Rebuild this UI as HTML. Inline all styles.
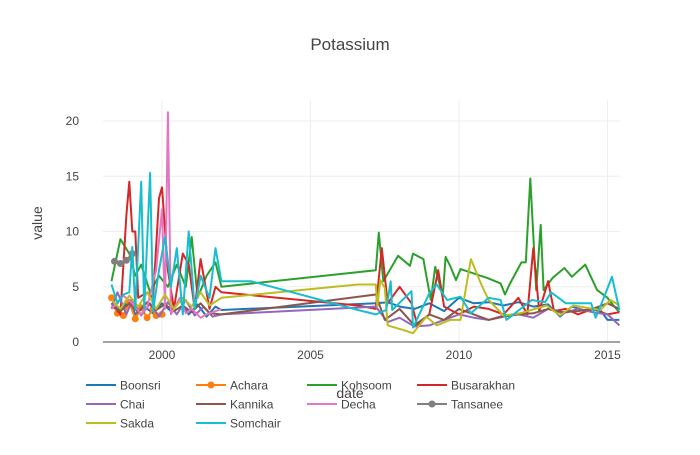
<!DOCTYPE html>
<html><head><meta charset="utf-8"><style>
body{margin:0;background:#fff;font-family:"Liberation Sans",sans-serif}
svg text{font-family:"Liberation Sans",sans-serif}
</style></head><body>
<svg id="chart" width="700" height="450" xmlns="http://www.w3.org/2000/svg">
<text x="350" y="50" text-anchor="middle" font-size="17" fill="#444">Potassium</text>
<g id="grid"></g>
<g id="series"></g>
<g id="axes"></g>
<text x="0" y="0" transform="translate(42,223) rotate(-90)" text-anchor="middle" font-size="14" fill="#444">value</text>
<text x="350" y="398" text-anchor="middle" font-size="14" fill="#444">date</text>
<g id="legend"></g>
</svg>
<script>
const xTicks=[2000,2005,2010,2015];
const yTicks=[0,5,10,15,20];
const names=["Boonsri","Achara","Kohsoom","Busarakhan","Chai","Kannika","Decha","Tansanee","Sakda","Somchair"];
const colors=["#1f77b4","#ff7f0e","#2ca02c","#d62728","#9467bd","#8c564b","#e377c2","#7f7f7f","#bcbd22","#17becf"];
const markers=[false,true,false,false,false,false,false,true,false,false];
const boonsri=[[1998.3,3.5],[1998.6,2.8],[1998.9,3.8],[1999.1,2.5],[1999.4,3.2],[1999.7,2.6],[2000.0,3.5],[2000.3,2.8],[2000.6,3.8],[2000.9,2.5],[2001.2,3.4],[2001.5,2.3],[2001.8,3.2],[2002.0,2.9],[2007.2,3.5],[2007.6,3.6],[2008.0,3.2],[2008.5,3.0],[2009.0,3.5],[2009.5,2.8],[2010.0,4.0],[2010.5,3.5],[2011.0,3.6],[2011.5,3.3],[2012.0,3.6],[2012.5,3.2],[2013.0,3.4],[2013.4,2.3],[2013.8,3.2],[2014.3,2.8],[2014.7,3.1],[2015.0,2.0],[2015.4,2.0]];
const achara=[[1998.3,4.0],[1998.5,2.6],[1998.7,2.4],[1998.9,3.6],[1999.1,2.1],[1999.3,3.1],[1999.5,2.2],[1999.7,3.0],[1999.8,2.4],[2000.0,2.5]];
const kohsoom=[[1998.3,5.5],[1998.6,9.3],[1998.9,8.0],[1999.1,6.0],[1999.3,7.0],[1999.6,4.5],[1999.9,6.0],[2000.2,5.0],[2000.5,7.0],[2000.8,5.0],[2001.0,9.5],[2001.2,4.0],[2001.5,6.0],[2001.8,7.2],[2002.0,5.0],[2007.2,6.5],[2007.3,9.9],[2007.45,5.5],[2007.95,7.8],[2008.35,6.9],[2008.45,8.0],[2008.8,7.5],[2008.9,6.0],[2009.05,3.8],[2009.2,6.8],[2009.45,4.1],[2009.55,7.7],[2009.7,6.9],[2009.9,5.6],[2010.05,6.6],[2010.95,5.8],[2011.4,5.3],[2011.55,4.3],[2011.7,5.2],[2012.1,7.2],[2012.25,7.2],[2012.4,14.8],[2012.6,4.7],[2012.75,10.6],[2012.85,4.7],[2013.15,5.8],[2013.55,6.7],[2013.8,5.9],[2014.25,7.0],[2014.65,4.7],[2015.0,4.0],[2015.2,3.3],[2015.4,2.7]];
const busarakhan=[[1998.3,3.5],[1998.6,2.5],[1998.8,11.5],[1998.9,14.5],[1999.0,10.0],[1999.1,10.0],[1999.2,4.0],[1999.5,4.5],[1999.7,4.0],[1999.9,13.0],[2000.0,14.0],[2000.2,6.5],[2000.4,3.0],[2000.7,8.0],[2000.9,7.0],[2001.1,3.0],[2001.3,7.5],[2001.6,3.0],[2001.8,5.0],[2002.0,4.5],[2006.6,3.3],[2007.2,3.0],[2007.4,8.5],[2007.6,3.5],[2008.0,5.0],[2008.4,3.5],[2008.6,1.5],[2009.0,2.5],[2009.3,6.5],[2009.5,3.2],[2010.0,2.5],[2010.5,3.2],[2011.0,3.0],[2011.5,2.5],[2012.0,4.0],[2012.3,2.5],[2012.5,8.5],[2012.7,2.8],[2013.0,5.5],[2013.2,2.8],[2013.6,3.0],[2014.0,2.5],[2014.5,3.0],[2015.0,2.5],[2015.4,2.7]];
const chai=[[1998.3,3.0],[1998.5,4.5],[1998.8,2.5],[1999.0,3.8],[1999.3,2.4],[1999.6,3.5],[1999.9,2.3],[2000.2,3.6],[2000.5,2.5],[2000.8,3.8],[2001.1,2.4],[2001.4,3.2],[2001.7,2.3],[2002.0,2.5],[2007.2,3.2],[2007.6,1.8],[2008.0,2.2],[2008.5,1.4],[2009.0,1.5],[2009.5,2.0],[2010.0,2.5],[2010.5,2.2],[2011.0,2.0],[2011.5,2.4],[2012.0,2.5],[2012.5,2.2],[2013.0,3.0],[2013.5,2.6],[2014.0,3.0],[2014.5,2.7],[2015.0,2.5],[2015.4,1.5]];
const kannika=[[1998.3,3.2],[1998.6,2.8],[1998.9,3.5],[1999.2,2.7],[1999.5,3.6],[1999.8,2.9],[2000.1,3.4],[2000.4,2.8],[2000.7,3.3],[2001.0,2.7],[2001.3,3.5],[2001.6,2.6],[2002.0,2.5],[2007.2,4.3],[2007.5,2.0],[2008.0,3.0],[2008.5,1.5],[2009.0,2.5],[2009.5,2.0],[2010.0,3.0],[2010.5,2.5],[2011.0,2.0],[2011.5,2.3],[2012.0,2.5],[2012.5,2.6],[2013.0,3.0],[2013.5,2.7],[2014.0,2.8],[2014.5,3.0],[2015.0,3.5],[2015.4,3.0]];
const decha=[[1998.3,3.0],[1998.7,4.2],[1999.0,3.5],[1999.3,2.5],[1999.5,3.2],[1999.8,6.5],[2000.0,12.0],[2000.1,3.0],[2000.2,20.8],[2000.3,2.5],[2000.6,4.0],[2000.8,2.6],[2001.0,3.0],[2001.3,2.2],[2001.5,2.5],[2002.0,3.0]];
const tansanee=[[1998.4,7.3],[1998.6,7.1],[1998.8,7.4],[1999.0,8.0]];
const sakda=[[1998.3,3.8],[1998.6,3.0],[1998.9,4.2],[1999.2,3.2],[1999.5,4.5],[1999.8,3.0],[2000.1,4.3],[2000.4,3.0],[2000.7,4.0],[2001.0,3.2],[2001.3,4.5],[2001.6,3.3],[2002.0,4.0],[2006.6,5.2],[2007.2,5.2],[2007.25,3.2],[2007.35,5.6],[2007.5,4.9],[2007.6,1.5],[2008.1,1.1],[2008.45,0.8],[2008.9,2.3],[2009.25,1.5],[2009.7,2.0],[2010.05,2.0],[2010.4,7.5],[2010.75,5.2],[2011.0,3.8],[2011.5,2.4],[2012.05,2.6],[2012.95,3.3],[2013.4,2.4],[2013.85,3.3],[2014.75,2.9],[2015.1,3.8],[2015.4,3.3]];
const somchair=[[1998.3,5.2],[1998.5,3.5],[1998.7,4.3],[1998.9,4.5],[1999.0,8.6],[1999.1,3.0],[1999.3,14.5],[1999.4,3.0],[1999.6,15.3],[1999.7,2.8],[1999.9,6.5],[2000.1,9.5],[2000.3,5.0],[2000.5,8.5],[2000.7,2.5],[2000.9,10.0],[2001.1,3.0],[2001.3,6.0],[2001.6,4.0],[2001.8,8.5],[2002.0,5.5],[2003.0,5.5],[2006.6,2.9],[2007.2,2.5],[2007.55,2.9],[2007.7,5.5],[2007.75,2.9],[2008.4,4.6],[2008.45,1.3],[2009.0,4.4],[2009.25,5.2],[2009.6,3.8],[2010.05,4.1],[2010.4,2.6],[2011.0,4.0],[2011.4,3.8],[2011.6,2.0],[2012.45,3.8],[2012.9,3.6],[2013.1,4.5],[2013.6,3.5],[2014.45,3.5],[2014.6,2.2],[2014.8,3.5],[2015.15,5.9],[2015.4,2.9]];
const allSeries=[boonsri,achara,kohsoom,busarakhan,chai,kannika,decha,tansanee,sakda,somchair];
const NS="http://www.w3.org/2000/svg";
const X0=103,X1=620,Y0=342,Y1=100;
function xs(t){return 162+(t-2000)*29.7;}
function ys(v){return 342-v*11.05;}
function mk(tag,attrs,parent){const e=document.createElementNS(NS,tag);for(const k in attrs)e.setAttribute(k,attrs[k]);parent.appendChild(e);return e;}
const grid=document.getElementById('grid'),axes=document.getElementById('axes'),ser=document.getElementById('series'),leg=document.getElementById('legend');
yTicks.forEach(v=>{
 if(v>0){const l=mk('line',{x1:X0,x2:X1,y1:ys(v),y2:ys(v),stroke:'#eee','stroke-width':1},grid);
 
 }
 const t=mk('text',{x:79,y:ys(v)+4,'text-anchor':'end','font-size':12,fill:'#444'},axes);t.textContent=v;
 
 
});
xTicks.forEach(v=>{
 const l=mk('line',{x1:xs(v),x2:xs(v),y1:Y1,y2:Y0,stroke:'#eee','stroke-width':1},grid);
 
 
 const t=mk('text',{x:xs(v),y:359,'text-anchor':'middle','font-size':12,fill:'#444'},axes);t.textContent=v;
 
 
});
const zl=mk('line',{x1:X0,x2:X1,y1:Y0,y2:Y0,stroke:'#444','stroke-width':1},axes);


allSeries.forEach((d,i)=>{
 const g=mk('g',{},ser);
 
 
 const p=mk('polyline',{points:d.map(q=>xs(q[0]).toFixed(1)+','+ys(q[1]).toFixed(1)).join(' '),fill:'none',stroke:colors[i],'stroke-width':2,'stroke-linejoin':'round'},g);
 
 
 if(markers[i])d.forEach(q=>{const c=mk('circle',{cx:xs(q[0]),cy:ys(q[1]),r:3.5,fill:colors[i]},g);
  
  });
});
const colX=[86,196,307,417],rowY=[385,404,423];
names.forEach((n,i)=>{
 const x=colX[i%4],y=rowY[Math.floor(i/4)];
 const g=mk('g',{},leg);
 
 
 mk('line',{x1:x,x2:x+30,y1:y,y2:y,stroke:colors[i],'stroke-width':2},g);
 if(markers[i])mk('circle',{cx:x+15,cy:y,r:3.5,fill:colors[i]},g);
 const t=mk('text',{x:x+34,y:y+4.5,'font-size':12,fill:'#444'},g);t.textContent=n;
});
</script>
</body></html>
